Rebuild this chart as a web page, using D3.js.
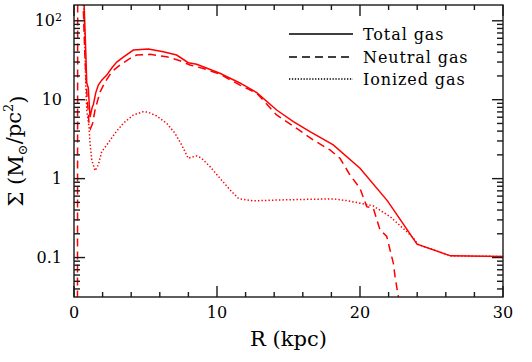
<!DOCTYPE html>
<html><head><meta charset="utf-8">
<script src="https://cdn.jsdelivr.net/npm/d3@7"></script>
<style>
html,body{margin:0;padding:0;background:#fff;}
svg{display:block;font-family:"DejaVu Serif",serif;}
</style></head>
<body>
<svg id="chart" width="532" height="362"></svg>
<script>
// ---- data (R in kpc, Sigma in Msun/pc^2) ----
const totalR = [0.3,0.55,0.82,0.89,1.0,1.12,1.28,1.35,1.52,1.7,1.94,2.29,2.64,2.99,3.45,4.15,5.2,6.24,7.18,7.99,8.58,10.2,11.6,12.78,14.17,15.34,16.5,18.13,20.0,21.92,23.99,26.34,30];
const totalS = [1000,1000,42.5,16.3,14.1,6.0,8.1,8.6,12.2,15.3,17.7,20.5,25.2,30,34.7,42.6,43.8,40.5,36.8,29.4,28.1,21.6,16.3,12.3,7.4,5.27,3.94,2.67,1.355,0.523,0.148,0.105,0.103];

const neutralR = [0.24,0.26,0.5,0.75,0.9,1.05,1.15,1.3,1.47,1.82,2.17,2.64,3.22,3.92,4.38,5.31,6.48,7.41,8.11,9.04,10.21,11.61,12.78,14.17,15.57,16.73,17.9,18.6,19.3,20.0,20.47,20.93,21.4,21.87,22.1,22.33,22.45,22.68,22.8];
const neutralS = [0.001,1000,1000,40,12,5,4.3,5,7.4,12.5,16.7,22.6,27.5,33.4,36.8,37.6,35.0,31.2,27.5,24.9,21.0,15.3,12.1,6.4,4.34,3.09,2.31,1.81,1.11,0.755,0.442,0.422,0.224,0.185,0.125,0.085,0.0575,0.032,0.02];

const ionizedR = [0.6,0.72,0.82,0.89,1.05,1.12,1.24,1.47,1.7,1.94,2.29,2.87,3.45,4.15,4.85,5.2,5.78,6.48,7.06,7.53,7.99,8.23,8.58,8.93,9.51,10.21,10.91,11.49,11.73,12.54,14.41,16.73,18.13,19.07,20.0,20.93,22.1,23.27,23.85,24.0,26.34,30];
const ionizedS = [1000,100,16.3,7.4,4.5,2.83,1.73,1.26,1.49,2.2,2.67,3.76,5.03,6.4,7.05,6.93,6.22,5.03,3.76,2.67,1.81,1.87,1.94,1.81,1.42,1.01,0.72,0.565,0.548,0.522,0.537,0.548,0.553,0.527,0.489,0.451,0.33,0.213,0.167,0.148,0.105,0.103];

const legendLabels = ["Total gas","Neutral gas","Ionized gas"];
const xMajorTicks = [0,10,20,30];
const xMinorTicks = [2,4,6,8,12,14,16,18,22,24,26,28];
const yMajorTicks = [0.1,1,10,100];
const yTickLabels = ["0.1","1","10","10"];
const yTickSup = ["","","","2"];

// ---- layout ----
const L=74, R=503, T=5, B=297;
const svg = d3.select("#chart");
const x = d3.scaleLinear().domain([0,30]).range([L,R]);
const y = d3.scaleLog().domain([Math.pow(10,-1.5),Math.pow(10,2.2)]).range([B,T]);

const yMinorTicks = [];
[-2,-1,0,1].forEach(k=>{for(let m=2;m<=9;m++){const v=m*Math.pow(10,k); if(v>=y.domain()[0]&&v<=y.domain()[1]) yMinorTicks.push(v);}});

svg.append("defs").append("clipPath").attr("id","clip")
  .append("rect").attr("x",L).attr("y",T).attr("width",R-L).attr("height",B-T);

// curves
const line = d3.line().x(d=>x(d[0])).y(d=>y(d[1]));
const series = [
  {R:totalR,S:totalS,dash:null},
  {R:neutralR,S:neutralS,dash:"8,5"},
  {R:ionizedR,S:ionizedS,dash:"1.4,2.1"}
];
const cg = svg.append("g").attr("clip-path","url(#clip)");
series.forEach(s=>{
  cg.append("path").datum(s.R.map((r,i)=>[r,s.S[i]]))
    .attr("d",line).attr("fill","none").attr("stroke","#ff0000")
    .attr("stroke-width",1.5).attr("stroke-dasharray",s.dash);
});

// frame
const axColor="#1a1a1a";
svg.append("rect").attr("x",L).attr("y",T).attr("width",R-L).attr("height",B-T)
  .attr("fill","none").attr("stroke",axColor).attr("stroke-width",1.4);

// ticks (inward on all four sides)
function addTick(x1,y1,x2,y2){
  svg.append("line").attr("x1",x1).attr("y1",y1).attr("x2",x2).attr("y2",y2)
    .attr("stroke",axColor).attr("stroke-width",1.4);
}
xMajorTicks.forEach(v=>{addTick(x(v),B,x(v),B-11);addTick(x(v),T,x(v),T+11);});
xMinorTicks.forEach(v=>{addTick(x(v),B,x(v),B-5);addTick(x(v),T,x(v),T+5);});
yMajorTicks.forEach(v=>{addTick(L,y(v),L+11,y(v));addTick(R,y(v),R-11,y(v));});
yMinorTicks.forEach(v=>{addTick(L,y(v),L+6,y(v));addTick(R,y(v),R-6,y(v));});

// tick labels
svg.append("g").selectAll("text").data(xMajorTicks).enter().append("text")
  .attr("x",d=>x(d)).attr("y",B+21).attr("text-anchor","middle")
  .attr("font-size",16).attr("fill","#000").text(d=>d);
const ylab = svg.append("g").selectAll("text").data(yMajorTicks).enter().append("text")
  .attr("x",L-12).attr("y",d=>y(d)+5.5).attr("text-anchor","end")
  .attr("font-size",16).attr("fill","#000");
ylab.each(function(d,i){
  const t=d3.select(this);
  t.append("tspan").text(yTickLabels[i]);
  if(yTickSup[i]) t.append("tspan").attr("dy","-0.45em").attr("font-size",11).text(yTickSup[i]);
});

// axis titles
svg.append("text").attr("x",(L+R)/2).attr("y",346).attr("text-anchor","middle")
  .attr("font-size",21).attr("fill","#000").text("R (kpc)");
const yt = svg.append("text").attr("transform",`translate(23,${(T+B)/2}) rotate(-90)`)
  .attr("text-anchor","middle").attr("font-size",21).attr("fill","#000");
yt.append("tspan").text("Σ (M");
yt.append("tspan").attr("font-size",13).attr("dy","0.3em").text("⊙");
yt.append("tspan").attr("dy","-0.3em").text("/pc");
yt.append("tspan").attr("font-size",13).attr("dy","-0.55em").text("2");
yt.append("tspan").attr("dy","0.55em").text(")");

// legend
const legDash=[null,"8,5","1.3,1.6"];
const legY=[34,57,79];
legendLabels.forEach((lab,i)=>{
  svg.append("line").attr("x1",289).attr("x2",353).attr("y1",legY[i]).attr("y2",legY[i])
    .attr("stroke","#000").attr("stroke-width",1.4).attr("stroke-dasharray",legDash[i]);
  svg.append("text").attr("x",363).attr("y",legY[i]+5.5).attr("font-size",16)
    .attr("letter-spacing",0.9).attr("fill","#000").text(lab);
});
</script>
</body></html>
